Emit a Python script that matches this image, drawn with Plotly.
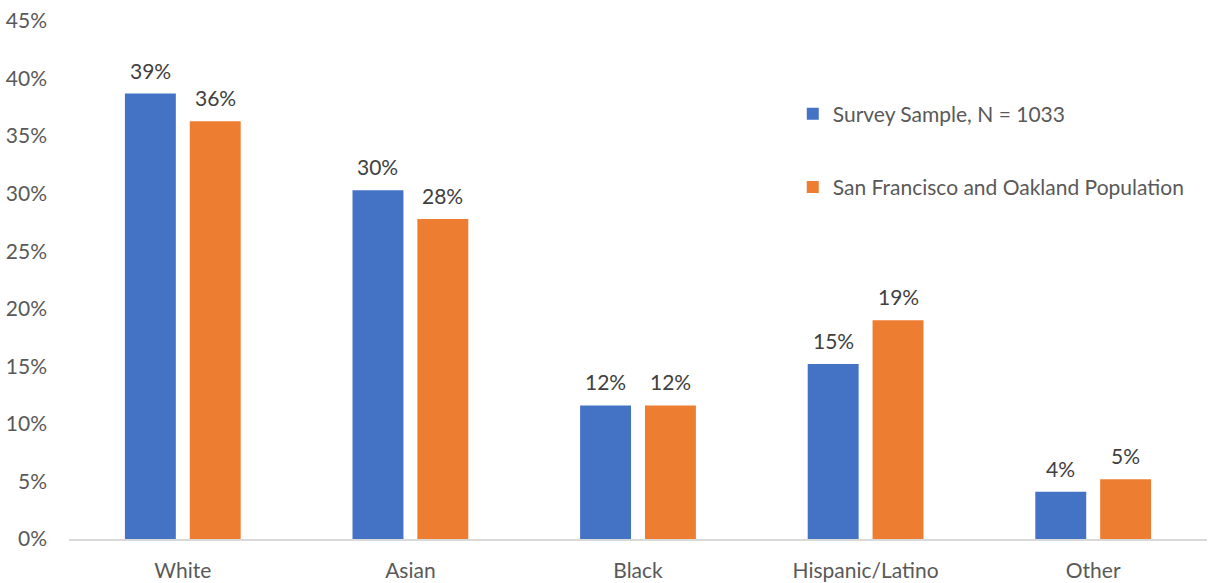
import plotly.graph_objects as go

categories = ["White", "Asian", "Black", "Hispanic/Latino", "Other"]
survey_sample = [0.387, 0.303, 0.116, 0.152, 0.041]
sf_oakland_pop = [0.363, 0.278, 0.116, 0.190, 0.052]
series_names = ["Survey Sample, N = 1033", "San Francisco and Oakland Population"]
y_ticks = [0, 0.05, 0.10, 0.15, 0.20, 0.25, 0.30, 0.35, 0.40, 0.45]

BLUE = "#4472C4"
ORANGE = "#ED7D31"
TEXT = "#595959"
LABEL = "#404040"
FONT = "Lato, Open Sans, sans-serif"
FS = 21

fig = go.Figure()
series = [(series_names[0], survey_sample, BLUE, -32.5),
          (series_names[1], sf_oakland_pop, ORANGE, 32.5)]
for i, (name, vals, color, dx) in enumerate(series):
    fig.add_trace(go.Bar(
        x=categories, y=vals, name=name,
        marker=dict(color=color, line=dict(width=0)),
        legendgroup=f"g{i}",
    ))
    # value labels above each bar, offset to the bar's slot within the group
    for cat, v in zip(categories, vals):
        fig.add_annotation(
            x=cat, y=v, text=f"{v:.0%}", showarrow=False,
            xanchor="center", yanchor="bottom", xshift=dx, yshift=9,
            font=dict(family=FONT, size=FS, color=LABEL),
        )

fig.update_layout(
    width=1212, height=583,
    margin=dict(l=69, r=5, t=21, b=44),
    paper_bgcolor="white", plot_bgcolor="white",
    barmode="group", bargap=0.43, bargroupgap=0.215,
    font=dict(family=FONT, size=FS, color=TEXT),
    legend=dict(
        x=0.636, y=0.86, xanchor="left", yanchor="top",
        traceorder="grouped", tracegroupgap=43,
        font=dict(family=FONT, size=FS, color=TEXT),
        bgcolor="rgba(0,0,0,0)",
    ),
    showlegend=True,
)
fig.update_yaxes(
    range=[0, 0.45], tickvals=y_ticks, tickformat=".0%",
    showgrid=False, zeroline=False, showline=False,
    ticks="", ticklabelstandoff=21, automargin=False,
    tickfont=dict(family=FONT, size=FS, color=TEXT),
)
fig.update_xaxes(
    showline=True, linecolor="#D9D9D9", linewidth=1.5,
    ticks="", ticklabelstandoff=12, automargin=False,
    tickfont=dict(family=FONT, size=FS, color=TEXT),
)

fig.write_html("out.html")
